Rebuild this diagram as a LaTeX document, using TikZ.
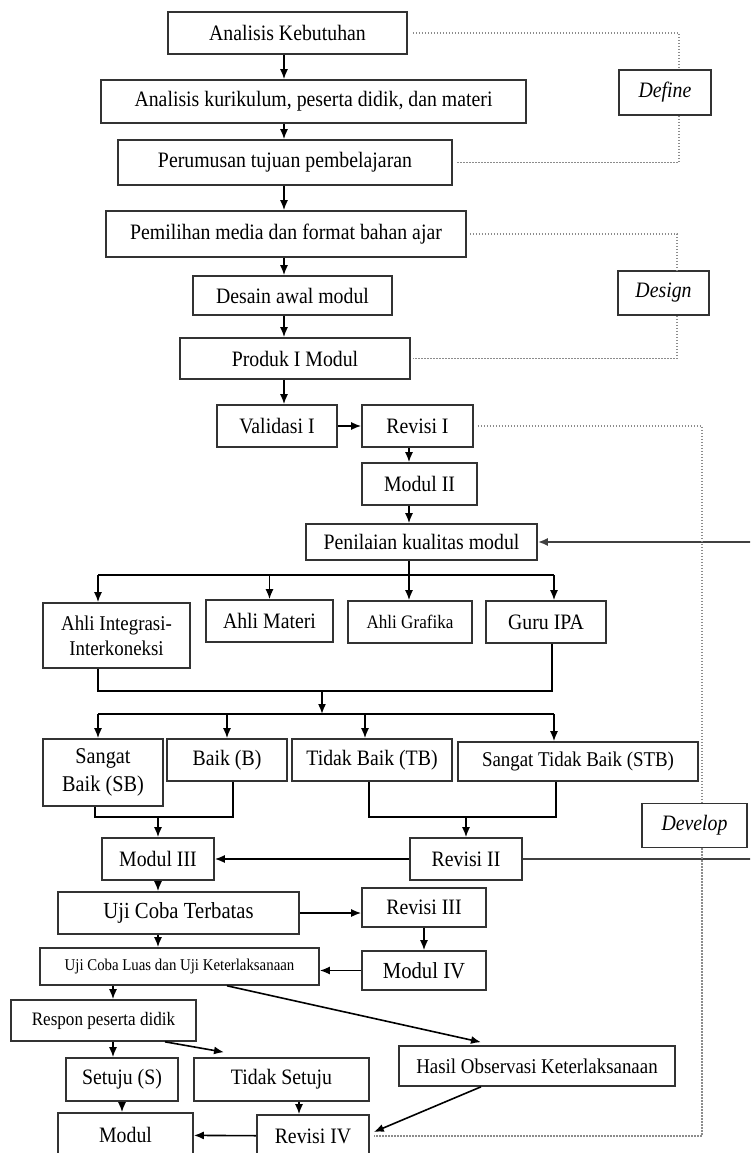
\documentclass[tikz,border=0pt]{standalone}
\usepackage{fontspec}
\setmainfont{Liberation Serif}[FakeStretch=0.9]
\usetikzlibrary{arrows.meta}

\begin{document}
\begin{tikzpicture}[x=1pt, y=-1pt, line width=1.6pt, >={Latex[length=10pt,width=8pt]},
    blok/.style={draw=black!80, fill=white, inner sep=0pt, align=center,
      font=\fontsize{22}{26}\selectfont},
    fase/.style={blok, font=\itshape\fontsize{22}{26}\selectfont},
    garis/.style={draw=black!45, line width=1.4pt, dash pattern=on 1.4pt off 1.6pt},
    balik/.style={draw=black!75, line width=2.6pt}]
    \useasboundingbox (0, 0) rectangle (750, 1153);
    \clip (0, 0) rectangle (750, 1153);

    % define / design
    \path (287.5, 33) node [blok, minimum width=239pt, minimum height=42pt] (ak) {Analisis Kebutuhan};
    \path (313.5, 101.5) node [blok, minimum width=425pt, minimum height=43pt] (kur) {Analisis kurikulum, peserta didik, dan materi};
    \path (285, 162.5) node [blok, minimum width=334pt, minimum height=45pt] (rumus) {Perumusan tujuan pembelajaran};
    \path (286, 234) node [blok, minimum width=360pt, minimum height=46pt] (media) {Pemilihan media dan format bahan ajar};
    \path (292.5, 295.5) node [blok, minimum width=199pt, minimum height=39pt] (desain) {Desain awal modul};
    \path (295, 358.5) node [blok, minimum width=230pt, minimum height=41pt] (produk) {Produk I Modul};
    \path (665, 92.5) node [fase, minimum width=92pt, minimum height=45pt] (define) {Define};
    \path (663.5, 293) node [fase, minimum width=91pt, minimum height=44pt] (design) {Design};

    \coordinate (axis) at (284, 0);
    \draw [->] (axis |- ak.south) -- (axis |- kur.north);
    \draw [->] (axis |- kur.south) -- (axis |- rumus.north);
    \draw [->] (axis |- rumus.south) -- (axis |- media.north);
    \draw [->] (axis |- media.south) -- (axis |- desain.north);
    \draw [->] (axis |- desain.south) -- (axis |- produk.north);

    \draw [garis] ([xshift=5pt]ak.east) -| ([xshift=14pt]define.north);
    \draw [garis] ([xshift=14pt]define.south) |- ([xshift=4pt]rumus.east);
    \draw [garis] ([xshift=3pt]media.east) -| ([xshift=13.5pt]design.north);
    \draw [garis] ([xshift=13.5pt]design.south) |- ([xshift=2pt]produk.east);

    % validasi dan penilaian
    \path (277, 426) node [blok, minimum width=120pt, minimum height=42pt] (val) {Validasi I};
    \path (417.5, 426) node [blok, minimum width=111pt, minimum height=42pt] (rev1) {Revisi I};
    \path (419.5, 484) node [blok, minimum width=115pt, minimum height=42pt] (mod2) {Modul II};
    \path (421.5, 542) node [blok, minimum width=231pt, minimum height=36pt] (nilai) {Penilaian kualitas modul};
    \draw [->] (axis |- produk.south) -- (axis |- val.north);
    \draw [->] (val) -- (rev1);
    \coordinate (raxis) at (409, 0);
    \draw [->] (raxis |- rev1.south) -- (raxis |- mod2.north);
    \draw [->] (raxis |- mod2.south) -- (raxis |- nilai.north);

    \path (116.5, 635.5) node [blok, minimum width=147pt, minimum height=65pt,
      font=\fontsize{21}{25}\selectfont] (ahli1) {Ahli Integrasi-\\Interkoneksi};
    \path (269.5, 621) node [blok, minimum width=127pt, minimum height=42pt] (ahli2) {Ahli Materi};
    \path (410, 622) node [blok, minimum width=124pt, minimum height=42pt,
      font=\fontsize{19}{22}\selectfont] (ahli3) {Ahli Grafika};
    \path (546, 622) node [blok, minimum width=120pt, minimum height=42pt] (guru) {Guru IPA};

    \coordinate (b1) at (98, 575);
    \coordinate (b2) at (554, 575);
    \draw (b1) -- (b2);
    \draw [->] (raxis |- nilai.south) -- (raxis |- ahli3.north);
    \draw [->] (b1) -- (b1 |- ahli1.north);
    \draw [->] (b1 -| ahli2) -- (ahli2.north);
    \draw [->] (b2) -- (b2 |- guru.north);

    \coordinate (m1) at (98, 691);
    \coordinate (m2) at (552, 691);
    \coordinate (m0) at (322, 691);
    \draw (m1 |- ahli1.south) -- (m1) -- (m2) -- (m2 |- guru.south);

    % kategori penilaian
    \path (103, 772.5) node [blok, minimum width=120pt, minimum height=67pt,
      font=\fontsize{22.5}{28}\selectfont] (sb) {Sangat\\Baik (SB)};
    \path (227, 760) node [blok, minimum width=120pt, minimum height=42pt] (baik) {Baik (B)};
    \path (372, 760) node [blok, minimum width=160pt, minimum height=42pt] (tb) {Tidak Baik (TB)};
    \path (578, 761.5) node [blok, minimum width=240pt, minimum height=39pt,
      font=\fontsize{21}{24}\selectfont] (stb) {Sangat Tidak Baik (STB)};

    \coordinate (b3) at (98, 714);
    \coordinate (b4) at (554, 714);
    \coordinate (tbx) at (365, 0);
    \draw [->] (m0) -- (m0 |- b3);
    \draw (b3) -- (b4);
    \draw [->] (b3) -- (b3 |- sb.north);
    \draw [->] (b3 -| baik) -- (baik.north);
    \draw [->] (tbx |- b3) -- (tbx |- tb.north);
    \draw [->] (b4) -- (b4 |- stb.north);

    \path (694.5, 825.5) node [fase, minimum width=105pt, minimum height=44pt] (develop) {Develop};
    \path (158, 859) node [blok, minimum width=112pt, minimum height=42pt] (mod3) {Modul III};
    \path (466, 859) node [blok, minimum width=112pt, minimum height=42pt] (rev2) {Revisi II};

    \coordinate (s1) at (95, 817);
    \coordinate (s2) at (233, 817);
    \draw (s1 |- sb.south) -- (s1) -- (s2) -- (s2 |- baik.south);
    \draw [->] (mod3 |- s1) -- (mod3.north);
    \coordinate (t1) at (369, 817);
    \coordinate (t2) at (556, 817);
    \draw (t1 |- tb.south) -- (t1) -- (t2) -- (t2 |- stb.south);
    \draw [->] (rev2 |- t1) -- (rev2.north);
    \draw [->] (rev2) -- (mod3);

    \coordinate (fb) at (775, 0);
    \draw [balik, ->] (rev2.east) -| (fb |- nilai) -- (nilai.east);

    % uji coba
    \path (178.5, 913) node [blok, minimum width=241pt, minimum height=42pt,
      font=\fontsize{23}{26}\selectfont] (uct) {Uji Coba Terbatas};
    \path (424, 907.5) node [blok, minimum width=124pt, minimum height=39pt] (rev3) {Revisi III};
    \path (424, 970.5) node [blok, minimum width=124pt, minimum height=39pt,
      font=\fontsize{23}{26}\selectfont] (mod4) {Modul IV};
    \path (179.5, 966.5) node [blok, minimum width=279pt, minimum height=37pt,
      font=\fontsize{16.5}{19}\selectfont] (ucl) {Uji Coba Luas dan Uji Keterlaksanaan};
    \draw [->] (mod3) -- (mod3 |- uct.north);
    \draw [->] (uct.east) -- (uct.east -| rev3.west);
    \draw [->] (rev3) -- (rev3 |- mod4.north);
    \draw [->] (mod4.west) -- (mod4.west -| ucl.east);
    \draw [->] (mod3 |- uct.south) -- (mod3 |- ucl.north);

    \path (103.5, 1020.5) node [blok, minimum width=185pt, minimum height=41pt,
      font=\fontsize{19}{22}\selectfont] (respon) {Respon peserta didik};
    \path (537, 1066) node [blok, minimum width=276pt, minimum height=40pt,
      font=\fontsize{21}{24}\selectfont] (hasil) {Hasil Observasi Keterlaksanaan};
    \path (122, 1079.5) node [blok, minimum width=112pt, minimum height=43pt] (setuju) {Setuju (S)};
    \path (281.5, 1079.5) node [blok, minimum width=175pt, minimum height=43pt] (tidak) {Tidak Setuju};
    \path (125.5, 1135) node [blok, minimum width=135pt, minimum height=44pt] (modul) {Modul};
    \path (313, 1136) node [blok, minimum width=112pt, minimum height=42pt] (rev4) {Revisi IV};

    \coordinate (ux) at (113, 0);
    \coordinate (rx) at (299, 0);
    \draw [->] (ux |- ucl.south) -- (ux |- respon.north);
    \draw [->] ([xshift=47.5pt]ucl.south) -- ([xshift=-56pt, yshift=3pt]hasil.north);
    \draw [->] (ux |- respon.south) -- (ux |- setuju.north);
    \draw [->] ([xshift=61.5pt]respon.south) -- ([xshift=-57.5pt, yshift=5pt]tidak.north);
    \draw [->] (setuju) -- (setuju |- modul.north);
    \draw [->] (rx |- tidak.south) -- (rx |- rev4.north);
    \draw [->] ([xshift=-56pt]hasil.south) -- ([xshift=4pt, yshift=4pt]rev4.east);
    \draw [->] (rev4) -- (modul);

    \draw [garis] ([xshift=4pt]rev1.east) -| ([xshift=7.5pt]develop.north);
    \draw [garis] ([xshift=7.5pt]develop.south) |- ([xshift=4pt]rev4.east);
\end{tikzpicture}
\end{document}
